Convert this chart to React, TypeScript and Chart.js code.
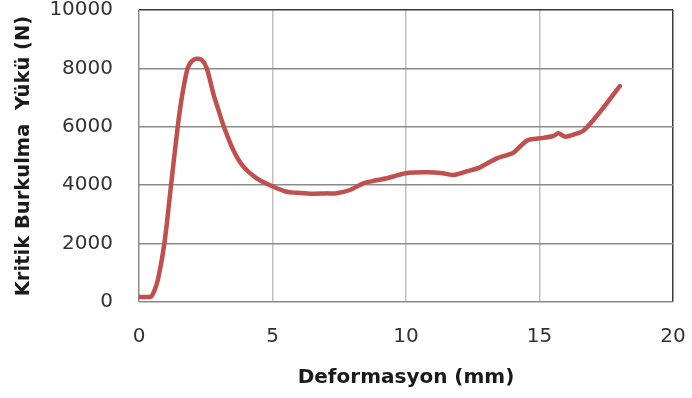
import React, { useEffect, useRef } from "react";
import { Chart, registerables } from "chart.js";

Chart.register(...registerables);

const deformation = [0, 0.25, 0.45, 0.58, 0.72, 0.95, 1.2, 1.45, 1.62, 1.82, 1.98, 2.16, 2.35, 2.54, 2.78, 2.95, 3.18, 3.53, 3.91, 4.41, 4.97, 5.53, 5.9, 6.4, 7.0, 7.4, 7.9, 8.4, 8.8, 9.28, 10.0, 10.77, 11.3, 11.77, 12.3, 12.77, 13.4, 14.02, 14.3, 14.58, 15.02, 15.52, 15.7, 15.96, 16.3, 16.64, 17.02, 17.52, 18.01];
const load = [170, 170, 185, 400, 810, 2000, 4000, 6000, 7090, 8000, 8250, 8330, 8290, 8000, 7147, 6650, 6000, 5205, 4634, 4236, 3973, 3777, 3740, 3710, 3720, 3725, 3836, 4065, 4150, 4236, 4407, 4440, 4420, 4350, 4480, 4612, 4920, 5115, 5350, 5550, 5605, 5685, 5776, 5662, 5740, 5867, 6233, 6804, 7397];

const xTitle = "Deformasyon (mm)";
const yTitle = "Kritik Burkulma  Yükü (N)";
const xMin = 0, xMax = 20, xStep = 5;
const yMin = 0, yMax = 10000, yStep = 2000;

export default function App() {
  const ref = useRef<HTMLCanvasElement>(null);
  useEffect(() => {
    if (!ref.current) return;
    const pts = deformation.map((x, i) => ({ x, y: load[i] }));
    const chart = new Chart(ref.current, {
      type: "scatter",
      data: {
        datasets: [
          {
            data: pts,
            showLine: true,
            borderColor: "#c0504d",
            backgroundColor: "#c0504d",
            borderWidth: 4.5,
            pointRadius: 0,
            tension: 0.3,
            borderCapStyle: "round",
            borderJoinStyle: "round",
          },
        ],
      },
      options: {
        responsive: false,
        animation: false,
        layout: { padding: { top: 10, right: 19, left: 0, bottom: 0 } },
        plugins: { legend: { display: false }, tooltip: { enabled: false } },
        scales: {
          x: {
            type: "linear",
            min: xMin,
            max: xMax,
            afterFit: (s: any) => { s.height = 96; },
            ticks: {
              stepSize: xStep,
              padding: 0,
              color: "#333333",
              font: { family: "DejaVu Sans", size: 20, lineHeight: 1.2 },
              callback: (v: any) => String(v),
            },
            border: { display: false },
            grid: {
              drawTicks: true,
              tickLength: 23,
              tickColor: "rgba(0,0,0,0)",
              lineWidth: 1.5,
              color: (c: any) => (c.tick && c.tick.value === xMax ? "#3a3a3a" : c.tick && c.tick.value === xMin ? "#8a8a8a" : "#c0c0c0"),
            },
            title: {
              display: true,
              text: xTitle,
              color: "#1a1a1a",
              font: { family: "DejaVu Sans", size: 20, weight: "bold" },
              padding: { top: 0, bottom: 8 },
            },
          },
          y: {
            type: "linear",
            min: yMin,
            max: yMax,
            afterFit: (s: any) => { s.width = 139; },
            ticks: {
              stepSize: yStep,
              padding: 0,
              color: "#333333",
              font: { family: "DejaVu Sans", size: 20, lineHeight: 0.95 },
              callback: (v: any) => String(v),
            },
            border: { display: false },
            grid: {
              drawTicks: true,
              tickLength: 26,
              tickColor: "rgba(0,0,0,0)",
              lineWidth: 1.5,
              color: (c: any) => (c.tick && c.tick.value === yMax ? "#3a3a3a" : "#8a8a8a"),
            },
            title: {
              display: true,
              text: yTitle,
              color: "#1a1a1a",
              font: { family: "DejaVu Sans", size: 19.5, weight: "bold" },
              padding: { top: 12, bottom: 0 },
            },
          },
        },
      },
    });
    return () => chart.destroy();
  }, []);
  return (
    <div style={{ position: "absolute", left: 0, top: 0, width: 692, height: 398, background: "#fff" }}>
      <canvas ref={ref} width={692} height={398} style={{ display: "block" }} />
    </div>
  );
}
